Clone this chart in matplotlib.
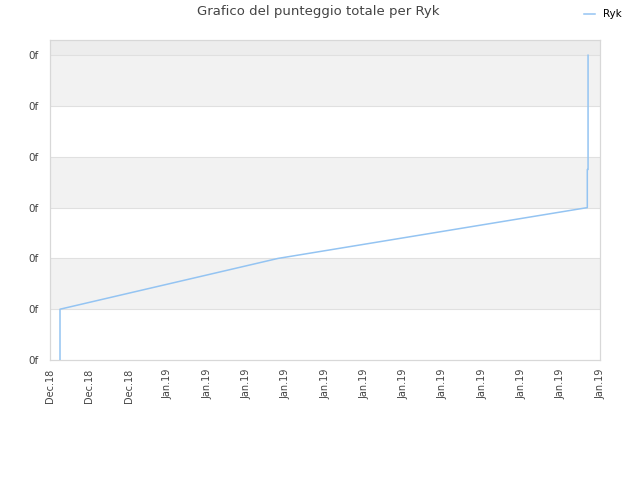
import matplotlib
matplotlib.use("Agg")
import matplotlib.pyplot as plt
import matplotlib.dates as mdates
import numpy as np
import pandas as pd

# Data
dates = ["2018-12-27 03:30", "2018-12-27 03:30", "2019-01-10 05:15",
         "2019-01-30 04:20", "2019-01-30 04:20", "2019-01-30 05:30",
         "2019-01-30 05:30"]
scores = [0, 1, 2, 3, 3.75, 3.75, 6]
series_name = "Ryk"
title = "Grafico del punteggio totale per Ryk"
x_start = "2018-12-26 12:00"
x_end = "2019-01-31 00:00"
n_xticks = 15
y_ticks = [0, 1, 2, 3, 4, 5, 6]
y_tick_labels = ["0f"] * 7

plt.rcParams['font.family'] = ['DejaVu Sans']
fig = plt.figure(figsize=(6.4, 4.8), dpi=100)
ax = fig.add_axes([50/640, 120/480, 550/640, 320/480])

x = mdates.date2num(pd.to_datetime(dates))
xmin = mdates.date2num(pd.Timestamp(x_start))
xmax = mdates.date2num(pd.Timestamp(x_end))
ymax = 6.3

# bands
for i in range(len(y_ticks) - 1):
    if i % 2 == 1:
        ax.axhspan(y_ticks[i], y_ticks[i+1], color='#f2f2f2', zorder=0, lw=0)
ax.axhspan(y_ticks[-1], ymax, color='#ededed', zorder=0, lw=0)
for yt in y_ticks[1:]:
    ax.axhline(yt, color='#e0e0e0', lw=0.8, zorder=1)

ax.plot(x, scores, color='#94c4f2', lw=1.1, zorder=3, label=series_name)

ax.set_xlim(xmin, xmax)
ax.set_ylim(0, ymax)
ax.set_yticks(y_ticks)
ax.set_yticklabels(y_tick_labels)
ax.set_xticks(np.linspace(xmin, xmax, n_xticks))
ax.xaxis.set_major_formatter(mdates.DateFormatter('%b.%y'))
ax.tick_params(axis='x', rotation=90, labelsize=7, length=0, pad=6, colors='#444444')
ax.tick_params(axis='y', labelsize=7.5, length=0, pad=8, colors='#444444')
for s in ax.spines.values():
    s.set_color('#d8d8d8')
    s.set_linewidth(0.9)

fig.text(0.497, 0.99, title, ha='center', va='top', fontsize=9.5, color='#444444')
fig.legend(loc='upper right', bbox_to_anchor=(0.986, 1.0), frameon=False,
           fontsize=7.5, handlelength=1.0, handletextpad=0.8)

fig.savefig("out.png", dpi=100)
